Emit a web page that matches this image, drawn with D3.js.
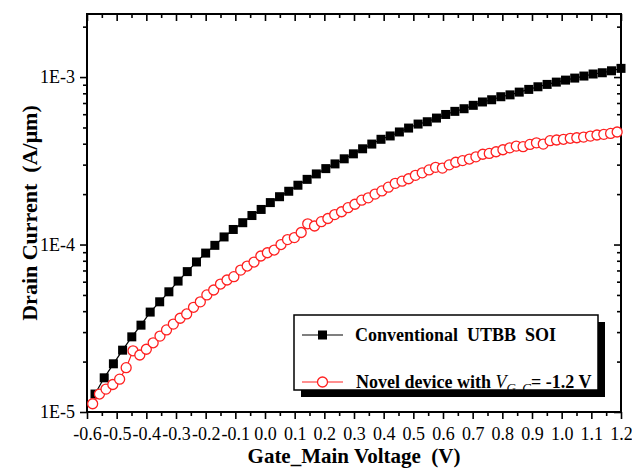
<!DOCTYPE html>
<html><head><meta charset="utf-8">
<script src="https://cdn.jsdelivr.net/npm/d3@7"></script>
<style>
body{margin:0;background:#fff}
svg{display:block}
text{font-family:"Liberation Serif","Times New Roman",serif;fill:#000}
</style>
</head><body>
<svg id="c" width="632" height="468"></svg>
<script>
// ---- data ----
const xTickValues = [-0.6,-0.5,-0.4,-0.3,-0.2,-0.1,0.0,0.1,0.2,0.3,0.4,0.5,0.6,0.7,0.8,0.9,1.0,1.1,1.2];
const xTickLabels = ["-0.6","-0.5","-0.4","-0.3","-0.2","-0.1","0.0","0.1","0.2","0.3","0.4","0.5","0.6","0.7","0.8","0.9","1.0","1.1","1.2"];
const yTickValues = [1e-5,1e-4,1e-3];
const yTickLabels = ["1E-5","1E-4","1E-3"];

const convX = [-0.573,-0.542,-0.511,-0.480,-0.449,-0.418,-0.387,-0.355,-0.324,-0.293,
  -0.262,-0.231,-0.200,-0.169,-0.138,-0.107,-0.075,-0.044,-0.013,0.018,
  0.049,0.080,0.111,0.142,0.173,0.205,0.236,0.267,0.298,0.329,
  0.360,0.391,0.422,0.453,0.484,0.516,0.547,0.578,0.609,0.640,
  0.671,0.702,0.733,0.764,0.795,0.826,0.857,0.889,0.920,0.951,
  0.982,1.013,1.044,1.075,1.106,1.137,1.168,1.200];
const convY = [1.28e-5,1.60e-5,1.94e-5,2.34e-5,2.81e-5,3.30e-5,3.95e-5,4.55e-5,5.22e-5,6.05e-5,
  6.89e-5,7.87e-5,8.89e-5,9.89e-5,1.11e-4,1.23e-4,1.35e-4,1.49e-4,1.62e-4,1.78e-4,
  1.93e-4,2.08e-4,2.26e-4,2.45e-4,2.64e-4,2.84e-4,3.03e-4,3.25e-4,3.48e-4,3.73e-4,
  3.98e-4,4.25e-4,4.45e-4,4.70e-4,4.96e-4,5.24e-4,5.41e-4,5.69e-4,5.98e-4,6.24e-4,
  6.47e-4,6.78e-4,7.10e-4,7.32e-4,7.63e-4,7.83e-4,8.13e-4,8.44e-4,8.75e-4,9.04e-4,
  9.33e-4,9.59e-4,9.86e-4,1.014e-3,1.043e-3,1.061e-3,1.09e-3,1.127e-3];

const novX = [-0.581,-0.558,-0.536,-0.513,-0.490,-0.468,-0.445,-0.422,-0.400,-0.377,
  -0.354,-0.332,-0.309,-0.286,-0.264,-0.241,-0.218,-0.196,-0.173,-0.150,
  -0.128,-0.105,-0.082,-0.060,-0.037,-0.014,0.008,0.031,0.054,0.076,
  0.099,0.122,0.144,0.167,0.190,0.212,0.235,0.258,0.280,0.303,
  0.326,0.348,0.371,0.394,0.416,0.439,0.462,0.484,0.507,0.530,
  0.553,0.575,0.598,0.621,0.643,0.666,0.689,0.711,0.734,0.756,
  0.779,0.802,0.825,0.847,0.870,0.893,0.915,0.938,0.961,0.983,
  1.006,1.029,1.051,1.074,1.097,1.119,1.142,1.165,1.187];
const novY = [1.12e-5,1.28e-5,1.37e-5,1.46e-5,1.57e-5,1.84e-5,2.32e-5,2.19e-5,2.37e-5,2.59e-5,
  2.84e-5,3.09e-5,3.35e-5,3.63e-5,3.85e-5,4.22e-5,4.55e-5,5.00e-5,5.35e-5,5.81e-5,
  6.14e-5,6.43e-5,7.04e-5,7.44e-5,7.86e-5,8.54e-5,8.93e-5,9.27e-5,1.00e-4,1.07e-4,
  1.10e-4,1.18e-4,1.33e-4,1.29e-4,1.37e-4,1.43e-4,1.51e-4,1.57e-4,1.66e-4,1.74e-4,
  1.84e-4,1.90e-4,2.00e-4,2.09e-4,2.20e-4,2.32e-4,2.39e-4,2.47e-4,2.59e-4,2.68e-4,
  2.79e-4,2.89e-4,2.86e-4,2.99e-4,3.10e-4,3.17e-4,3.24e-4,3.34e-4,3.46e-4,3.50e-4,
  3.58e-4,3.68e-4,3.78e-4,3.87e-4,3.84e-4,3.96e-4,4.05e-4,3.98e-4,4.17e-4,4.21e-4,
  4.25e-4,4.31e-4,4.34e-4,4.38e-4,4.44e-4,4.51e-4,4.55e-4,4.61e-4,4.70e-4];

const seriesNames = ["Conventional  UTBB  SOI", "Novel device with "];

// ---- layout ----
const L = 87, R = 621, T = 14, B = 412;
const svg = d3.select("#c");
const x = d3.scaleLinear().domain([-0.6, 1.2]).range([L, R]);
const y = d3.scaleLog().domain([1e-5, 2.38e-3]).range([B, T]);

// minor tick positions
const xMinor = xTickValues.slice(0, -1).map(v => +(v + 0.05).toFixed(2));
const yMinor = [];
[-5, -4, -3].forEach(e => { for (let k = 2; k <= 9; k++) { const v = k * Math.pow(10, e); if (v < y.domain()[1]) yMinor.push(v); } });

function styleAxis(g) {
  g.select(".domain").remove();
  g.selectAll("line").attr("stroke", "#000").attr("stroke-width", 1.6);
}

// bottom major + minor
svg.append("g").attr("transform", `translate(0,${B})`)
  .call(d3.axisBottom(x).tickValues(xTickValues).tickFormat((d, i) => xTickLabels[i]).tickSize(7).tickPadding(8))
  .call(styleAxis)
  .selectAll("text").style("font-size", "18px").attr("font-family", null);
svg.append("g").attr("transform", `translate(0,${B})`)
  .call(d3.axisBottom(x).tickValues(xMinor).tickFormat("").tickSize(4)).call(styleAxis);
// top (inward)
svg.append("g").attr("transform", `translate(0,${T})`)
  .call(d3.axisBottom(x).tickValues(xTickValues).tickFormat("").tickSize(7)).call(styleAxis);
svg.append("g").attr("transform", `translate(0,${T})`)
  .call(d3.axisBottom(x).tickValues(xMinor).tickFormat("").tickSize(4)).call(styleAxis);
// left
svg.append("g").attr("transform", `translate(${L},0)`)
  .call(d3.axisLeft(y).tickValues(yTickValues).tickFormat((d, i) => yTickLabels[i]).tickSize(7).tickPadding(5))
  .call(styleAxis)
  .selectAll("text").style("font-size", "18px").attr("font-family", null);
svg.append("g").attr("transform", `translate(${L},0)`)
  .call(d3.axisLeft(y).tickValues(yMinor).tickFormat("").tickSize(4)).call(styleAxis);
// right (inward)
svg.append("g").attr("transform", `translate(${R},0)`)
  .call(d3.axisLeft(y).tickValues(yTickValues).tickFormat("").tickSize(7)).call(styleAxis);
svg.append("g").attr("transform", `translate(${R},0)`)
  .call(d3.axisLeft(y).tickValues(yMinor).tickFormat("").tickSize(4)).call(styleAxis);

// frame
svg.append("rect").attr("x", L).attr("y", T).attr("width", R - L).attr("height", B - T)
  .attr("fill", "none").attr("stroke", "#000").attr("stroke-width", 2);

// axis titles
svg.append("text").attr("x", (L + R) / 2).attr("y", 463).attr("text-anchor", "middle")
  .style("font-size", "21px").style("font-weight", "bold").style("white-space", "pre")
  .text("Gate_Main Voltage  (V)");
svg.append("text").attr("transform", `translate(37,${(T + B) / 2}) rotate(-90)`).attr("text-anchor", "middle")
  .style("font-size", "22px").style("font-weight", "bold").style("white-space", "pre")
  .text("Drain Current  (A/\u03bcm)");

// series
const conv = convX.map((v, i) => [v, convY[i]]);
const nov = novX.map((v, i) => [v, novY[i]]);
const line = d3.line().x(d => x(d[0])).y(d => y(d[1]));
const RED = "#ff2020";

svg.append("path").datum(conv).attr("d", line).attr("fill", "none").attr("stroke", "#000").attr("stroke-width", 1.2);
svg.append("g").selectAll("rect").data(conv).join("rect")
  .attr("x", d => x(d[0]) - 4.5).attr("y", d => y(d[1]) - 4.5).attr("width", 9).attr("height", 9).attr("fill", "#000");

svg.append("path").datum(nov).attr("d", line).attr("fill", "none").attr("stroke", RED).attr("stroke-width", 1.2);
svg.append("g").selectAll("circle").data(nov).join("circle")
  .attr("cx", d => x(d[0])).attr("cy", d => y(d[1])).attr("r", 5)
  .attr("fill", "#fff").attr("stroke", RED).attr("stroke-width", 1.3);

// legend
const lg = svg.append("g");
lg.append("rect").attr("x", 301).attr("y", 322).attr("width", 304).attr("height", 75).attr("fill", "#000");
lg.append("rect").attr("x", 294).attr("y", 315).attr("width", 304).attr("height", 75)
  .attr("fill", "#fff").attr("stroke", "#000").attr("stroke-width", 1.5);
// row 1
lg.append("line").attr("x1", 302).attr("x2", 343).attr("y1", 335).attr("y2", 335).attr("stroke", "#000").attr("stroke-width", 1.2);
lg.append("rect").attr("x", 322.5 - 4.5).attr("y", 335 - 4.5).attr("width", 9).attr("height", 9).attr("fill", "#000");
lg.append("text").attr("x", 355).attr("y", 341).style("font-size", "18px").style("font-weight", "bold")
  .style("white-space", "pre").text(seriesNames[0]);
// row 2
lg.append("line").attr("x1", 302).attr("x2", 343).attr("y1", 382).attr("y2", 382).attr("stroke", RED).attr("stroke-width", 1.2);
lg.append("circle").attr("cx", 322.5).attr("cy", 382).attr("r", 5).attr("fill", "#fff").attr("stroke", RED).attr("stroke-width", 1.3);
const t2 = lg.append("text").attr("x", 356).attr("y", 388).style("font-size", "18px").style("font-weight", "bold").style("white-space", "pre");
t2.append("tspan").text(seriesNames[1]);
t2.append("tspan").style("font-style", "italic").style("font-weight", "normal").text("V");
t2.append("tspan").style("font-style", "italic").style("font-weight", "normal").style("font-size", "13px").attr("dy", 4).text("G_C");
t2.append("tspan").attr("dy", -4).text("= -1.2 V");
</script>
</body></html>
